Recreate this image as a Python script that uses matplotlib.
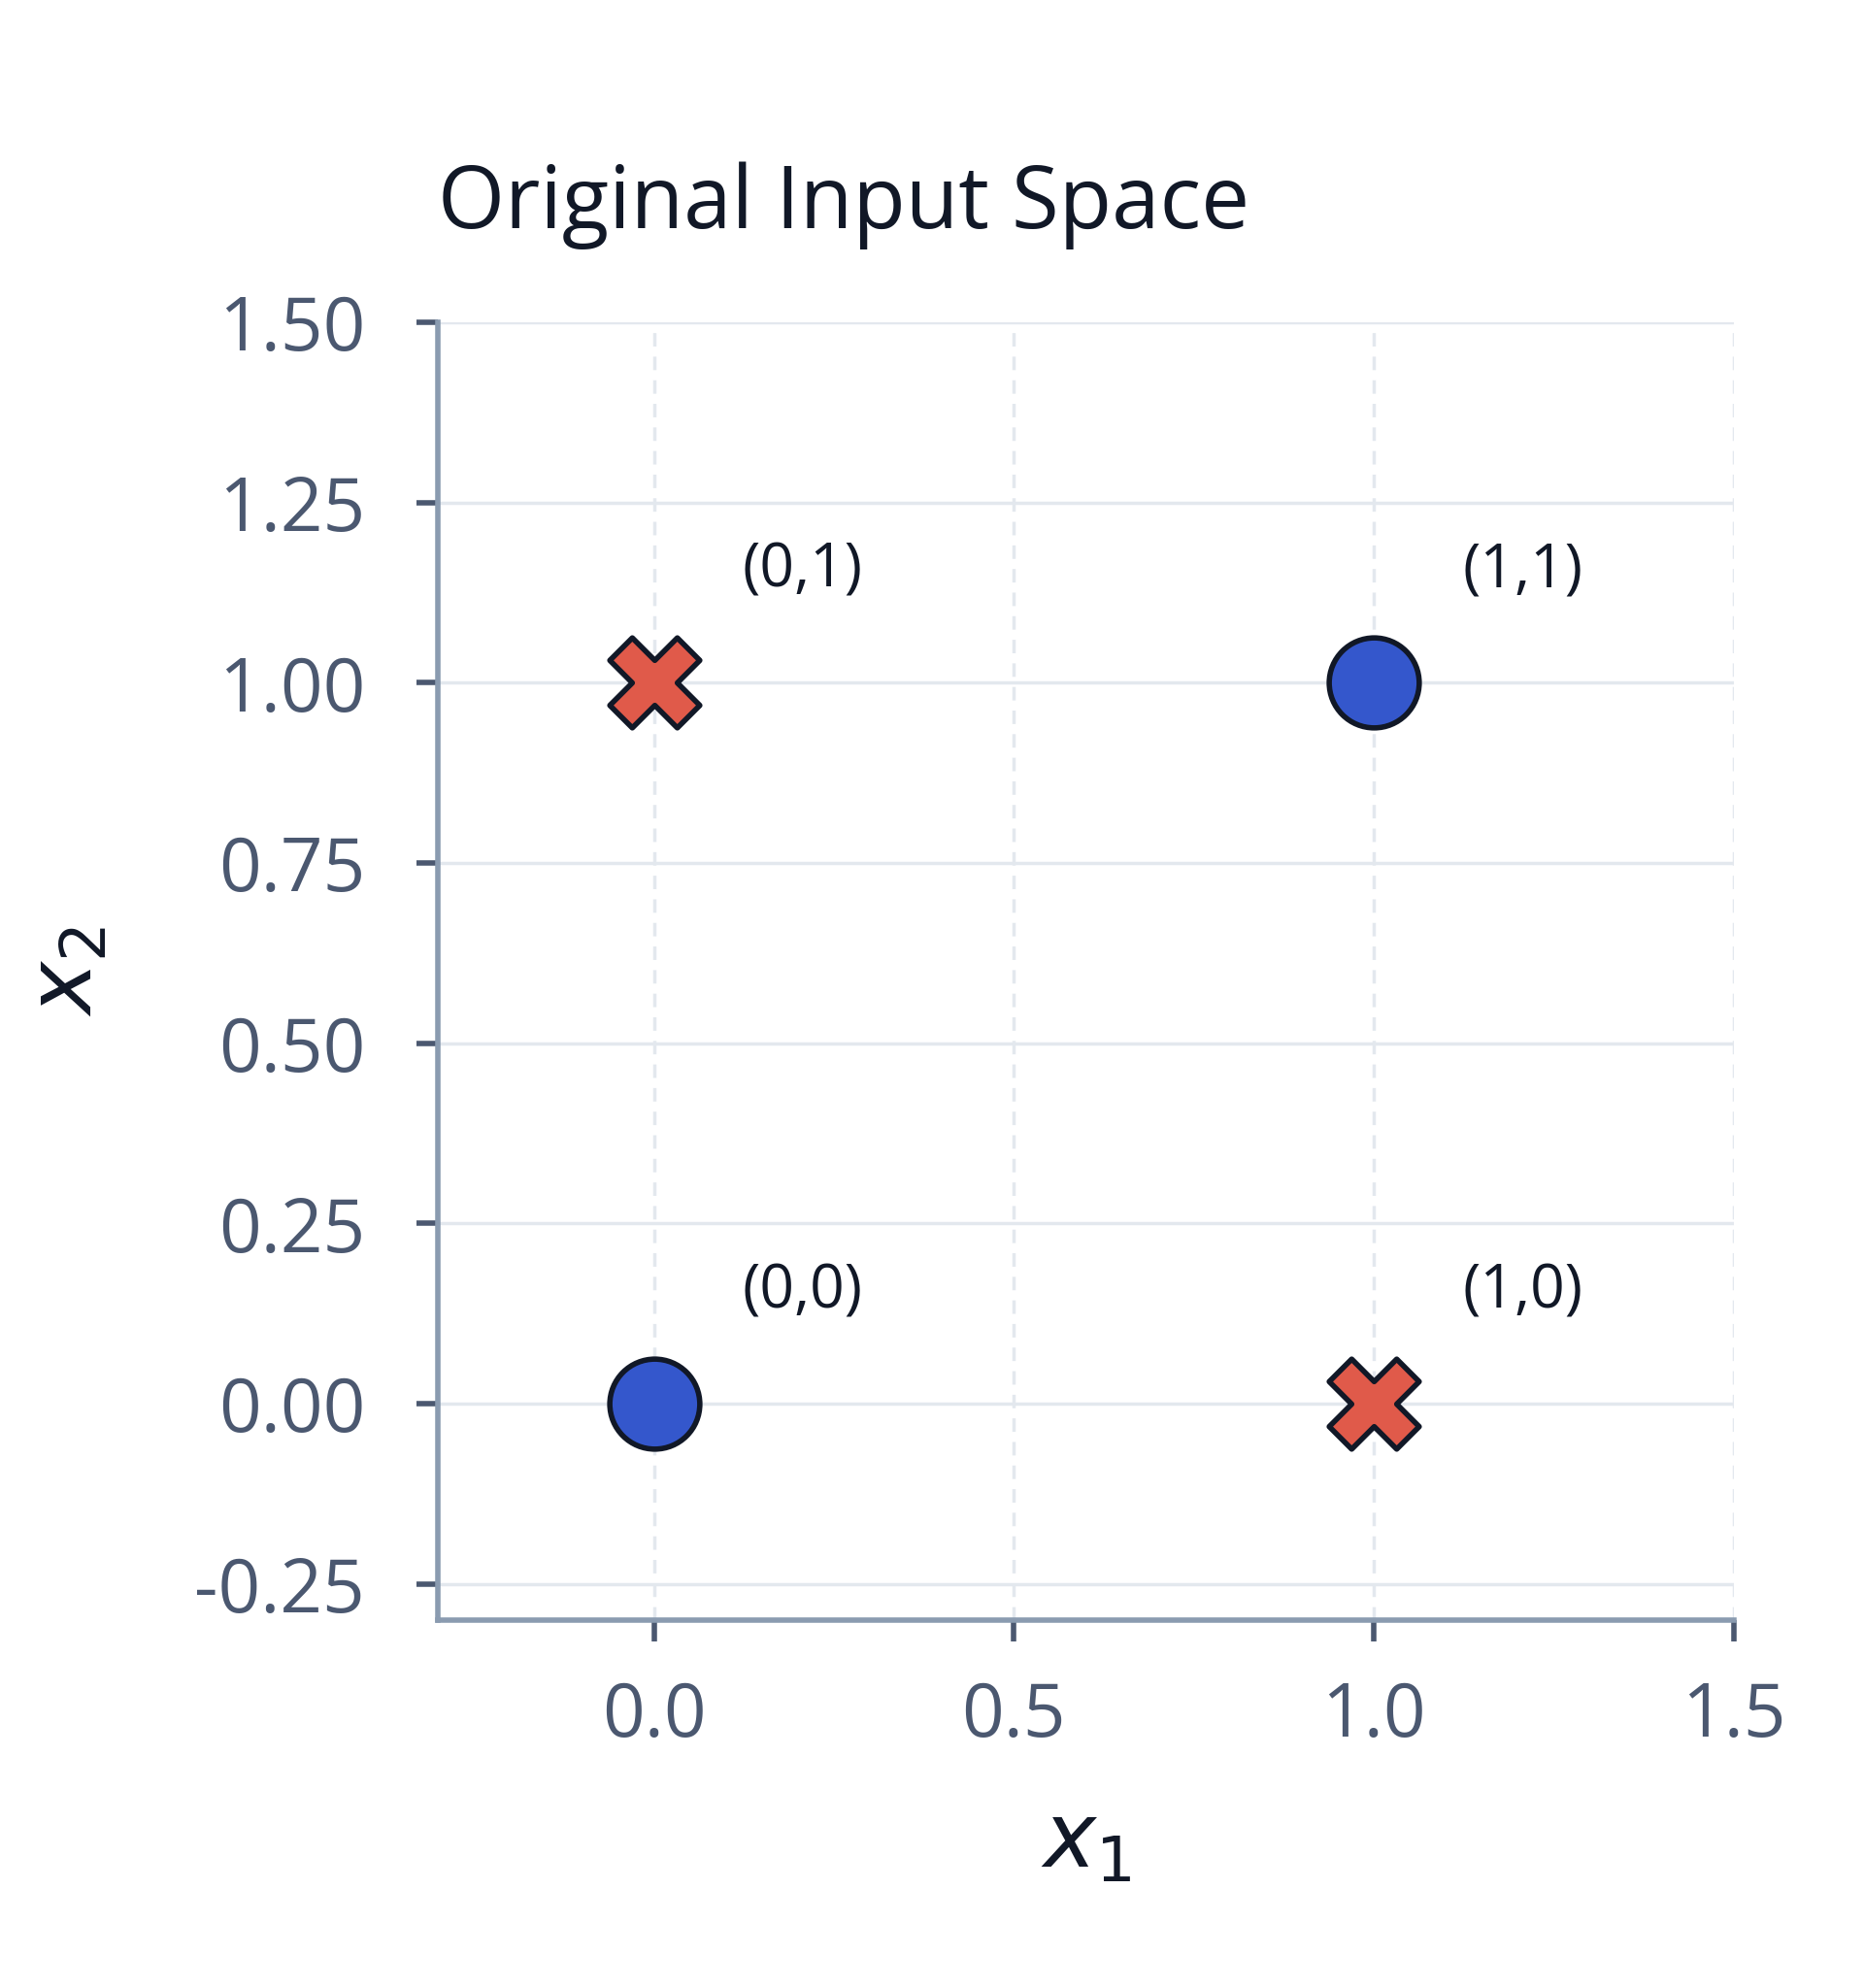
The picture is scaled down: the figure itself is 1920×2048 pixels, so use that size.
import matplotlib
matplotlib.use("Agg")
import matplotlib.pyplot as plt

plt.rcParams['font.family'] = ['Open Sans', 'DejaVu Sans']
plt.rcParams['mathtext.fontset'] = 'dejavusans'

circ_x = [0, 1]; circ_y = [0, 1]
x_x = [0, 1]; x_y = [1, 0]
lab_x = [0, 0, 1, 1]; lab_y = [0, 1, 0, 1]
labels = ["(0,0)", "(0,1)", "(1,0)", "(1,1)"]
xticks = [0.0, 0.5, 1.0, 1.5]
yticks = [-0.25, 0.0, 0.25, 0.5, 0.75, 1.0, 1.25, 1.5]

fig = plt.figure(figsize=(19.2, 20.48), dpi=100)
ax = fig.add_axes([0.235, 0.185, 0.695, 0.653])
ax.set_xlim(-0.3, 1.5); ax.set_ylim(-0.3, 1.5)

for y in yticks:
    ax.axhline(y, color='#e3e8ee', lw=2.5, zorder=0)
for x in xticks:
    ax.axvline(x, color='#e3e8ee', lw=2.5, ls=(0, (4, 3)), zorder=0)

ax.scatter(circ_x, circ_y, s=92**2/1.9, c='#3457cc', edgecolors='#111827', linewidths=4, zorder=3)
ax.scatter(x_x, x_y, s=92**2/1.9, marker='X', c='#e05a4a', edgecolors='#111827', linewidths=4, zorder=3)
for x, y, t in zip(lab_x, lab_y, labels):
    ax.text(x + 0.123, y + 0.155, t, fontsize=45, color='#111827', ha='left', va='center')

ax.set_xticks(xticks); ax.set_xticklabels([f"{v:.1f}" for v in xticks])
ax.set_yticks(yticks); ax.set_yticklabels([f"{v:.2f}" for v in yticks])
ax.tick_params(labelsize=55, colors='#4b5870', length=16, width=4)
ax.tick_params(axis='y', pad=38)
ax.tick_params(axis='x', pad=28)
for s in ['top', 'right']:
    ax.spines[s].set_visible(False)
for s in ['left', 'bottom']:
    ax.spines[s].set_color('#8a9bb0'); ax.spines[s].set_linewidth(4)
ax.set_xlabel(r'$x_1$', fontsize=66, color='#111827', labelpad=34)
ax.set_ylabel(r'$x_2$', fontsize=66, color='#111827', labelpad=60)
ax.set_title('Original Input Space', fontsize=64, color='#111827', loc='left', x=0.0, pad=70)
fig.savefig('out.png', dpi=100, facecolor='white')
